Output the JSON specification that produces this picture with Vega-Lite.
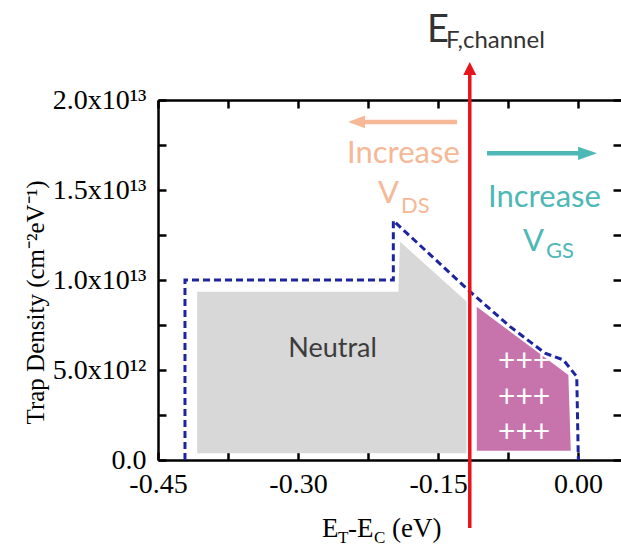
{
  "$schema": "https://vega.github.io/schema/vega-lite/v6.json",
  "width": 463,
  "height": 360,
  "autosize": {"type": "none"},
  "padding": {"left": 158, "top": 100, "right": 0, "bottom": 86},
  "background": "white",
  "config": {"view": {"stroke": null}, "axis": {"grid": false}},
  "resolve": {"axis": {"x": "independent", "y": "independent"}},
  "layer": [
    {
      "data": {"values": [
        {"x": -0.408, "y": 9.35e12},
        {"x": -0.1925, "y": 9.35e12},
        {"x": -0.1907, "y": 1.213e13},
        {"x": -0.1195, "y": 8.8e12}
      ]},
      "mark": {"type": "area", "color": "#d8d8d8", "interpolate": "linear", "opacity": 1},
      "encoding": {
        "x": {"field": "x", "type": "quantitative",
          "scale": {"domain": [-0.45, 0.046], "nice": false, "zero": false},
          "axis": {"orient": "bottom", "title": null,
            "values": [-0.45, -0.375, -0.3, -0.225, -0.15, -0.075, 0],
            "labelExpr": "datum.value == -0.45 ? '-0.45' : datum.value == -0.3 ? '-0.30' : datum.value == -0.15 ? '-0.15' : datum.value == 0 ? '0.00' : ''",
            "tickSize": -8, "tickWidth": 2.5, "tickColor": "#000",
            "domainColor": "#000", "domainWidth": 2.5,
            "labelFont": "Liberation Serif", "labelFontSize": 28, "labelColor": "#000",
            "labelPadding": 18, "labelFlush": false, "labelOverlap": false, "labelBound": false}},
        "y": {"field": "y", "type": "quantitative",
          "scale": {"domain": [0, 2e13], "nice": false, "zero": false},
          "axis": {"orient": "left", "title": "Trap Density (cm⁻²eV⁻¹)",
            "titleFont": "Liberation Serif", "titleFontSize": 25, "titleFontWeight": "normal", "titleColor": "#000",
            "titleX": -123, "titleY": 202, "titleAngle": -90, "titleBaseline": "middle", "titleAlign": "center",
            "values": [0, 2.5e12, 5e12, 7.5e12, 1e13, 1.25e13, 1.5e13, 1.75e13, 2e13],
            "labelExpr": "datum.value == 0 ? '0.0' : datum.value == 5e12 ? '5.0x10¹²' : datum.value == 1e13 ? '1.0x10¹³' : datum.value == 1.5e13 ? '1.5x10¹³' : datum.value == 2e13 ? '2.0x10¹³' : ''",
            "tickSize": -8, "tickWidth": 2.5, "tickColor": "#000",
            "domainColor": "#000", "domainWidth": 2.5,
            "labelFont": "Liberation Serif", "labelFontSize": 28, "labelColor": "#000",
            "labelPadding": 20, "labelFlush": false, "labelOverlap": false, "labelBound": false}},
        "y2": {"datum": 3.7e11}
      }
    },
    {
      "data": {"values": [
        {"x": -0.1085, "y": 8.52e12},
        {"x": -0.0104, "y": 4.72e12},
        {"x": -0.0078, "y": 5.2e11}
      ]},
      "mark": {"type": "area", "color": "#c774ad", "interpolate": "linear", "opacity": 1},
      "encoding": {
        "x": {"field": "x", "type": "quantitative", "axis": null},
        "y": {"field": "y", "type": "quantitative", "axis": null},
        "y2": {"datum": 5.2e11}
      }
    },
    {
      "data": {"values": [
        {"i": 1, "x": -0.4211, "y": 0},
        {"i": 2, "x": -0.4211, "y": 1.0e13},
        {"i": 3, "x": -0.1979, "y": 1.0e13},
        {"i": 4, "x": -0.1979, "y": 1.33e13},
        {"i": 5, "x": -0.1157, "y": 9.35e12},
        {"i": 6, "x": -0.0728, "y": 7.41e12},
        {"i": 7, "x": -0.0353, "y": 5.93e12},
        {"i": 8, "x": -0.0157, "y": 5.56e12},
        {"i": 9, "x": -0.0014, "y": 4.63e12},
        {"i": 10, "x": 0.0003, "y": 0}
      ]},
      "mark": {"type": "line", "color": "#1c24a0", "strokeWidth": 3, "strokeDash": [7, 4], "interpolate": "linear"},
      "encoding": {
        "x": {"field": "x", "type": "quantitative",
          "axis": {"orient": "top", "title": null, "labels": false,
            "values": [-0.45, -0.375, -0.3, -0.225, -0.15, -0.075, 0],
            "tickSize": -8, "tickWidth": 2.5, "tickColor": "#000",
            "domainColor": "#000", "domainWidth": 2.5}},
        "y": {"field": "y", "type": "quantitative",
          "axis": {"orient": "right", "title": null, "labels": false, "domain": false,
            "values": [0, 2.5e12, 5e12, 7.5e12, 1e13, 1.25e13, 1.5e13, 1.75e13, 2e13],
            "tickSize": -8, "tickWidth": 2.5, "tickColor": "#000"}},
        "order": {"field": "i", "type": "quantitative"}
      }
    },
    {
      "data": {"values": [{"x": -0.116, "y": -3.78e12, "y2": 2.16e13}]},
      "mark": {"type": "rule", "color": "#e8141c", "strokeWidth": 3.5, "clip": false},
      "encoding": {
        "x": {"field": "x", "type": "quantitative", "axis": null},
        "y": {"field": "y", "type": "quantitative", "axis": null},
        "y2": {"field": "y2"}
      }
    },
    {
      "data": {"values": [{"x": -0.116, "y": 2.175e13}]},
      "mark": {"type": "point", "shape": "M0,-1L1,1L-1,1Z", "size": 169, "filled": true, "color": "#e8141c", "opacity": 1, "clip": false},
      "encoding": {
        "x": {"field": "x", "type": "quantitative", "axis": null},
        "y": {"field": "y", "type": "quantitative", "axis": null}
      }
    },
    {
      "data": {"values": [{"x": -0.2336, "x2": -0.1296, "y": 1.878e13}]},
      "mark": {"type": "rule", "color": "#f6b896", "strokeWidth": 4.5},
      "encoding": {
        "x": {"field": "x", "type": "quantitative", "axis": null},
        "x2": {"field": "x2"},
        "y": {"field": "y", "type": "quantitative", "axis": null}
      }
    },
    {
      "data": {"values": [{"x": -0.2373, "y": 1.878e13}]},
      "mark": {"type": "point", "shape": "M-1,0L1,-0.75L1,0.75Z", "size": 289, "filled": true, "color": "#f6b896", "opacity": 1},
      "encoding": {
        "x": {"field": "x", "type": "quantitative", "axis": null},
        "y": {"field": "y", "type": "quantitative", "axis": null}
      }
    },
    {
      "data": {"values": [{"x": -0.0975, "x2": 0.0075, "y": 1.704e13}]},
      "mark": {"type": "rule", "color": "#4db8b6", "strokeWidth": 4.5},
      "encoding": {
        "x": {"field": "x", "type": "quantitative", "axis": null},
        "x2": {"field": "x2"},
        "y": {"field": "y", "type": "quantitative", "axis": null}
      }
    },
    {
      "data": {"values": [{"x": 0.0102, "y": 1.704e13}]},
      "mark": {"type": "point", "shape": "M1,0L-1,-0.7L-1,0.7Z", "size": 361, "filled": true, "color": "#4db8b6", "opacity": 1},
      "encoding": {
        "x": {"field": "x", "type": "quantitative", "axis": null},
        "y": {"field": "y", "type": "quantitative", "axis": null}
      }
    },
    {
      "data": {"values": [
        {"x": -0.2475, "y": 1.650e13, "t": "Increase"},
        {"x": -0.2143, "y": 1.428e13, "t": "V"}
      ]},
      "mark": {"type": "text", "font": "Lato", "fontSize": 31, "color": "#f6b896", "align": "left", "baseline": "alphabetic"},
      "encoding": {
        "x": {"field": "x", "type": "quantitative", "axis": null},
        "y": {"field": "y", "type": "quantitative", "axis": null},
        "text": {"field": "t"}
      }
    },
    {
      "data": {"values": [{"x": -0.1896, "y": 1.372e13, "t": "DS"}]},
      "mark": {"type": "text", "font": "Lato", "fontSize": 22, "color": "#f6b896", "align": "left", "baseline": "alphabetic"},
      "encoding": {
        "x": {"field": "x", "type": "quantitative", "axis": null},
        "y": {"field": "y", "type": "quantitative", "axis": null},
        "text": {"field": "t"}
      }
    },
    {
      "data": {"values": [
        {"x": -0.0964, "y": 1.406e13, "t": "Increase"},
        {"x": -0.0589, "y": 1.161e13, "t": "V"}
      ]},
      "mark": {"type": "text", "font": "Lato", "fontSize": 31, "color": "#4db8b6", "align": "left", "baseline": "alphabetic"},
      "encoding": {
        "x": {"field": "x", "type": "quantitative", "axis": null},
        "y": {"field": "y", "type": "quantitative", "axis": null},
        "text": {"field": "t"}
      }
    },
    {
      "data": {"values": [{"x": -0.0343, "y": 1.122e13, "t": "GS"}]},
      "mark": {"type": "text", "font": "Lato", "fontSize": 22, "color": "#4db8b6", "align": "left", "baseline": "alphabetic"},
      "encoding": {
        "x": {"field": "x", "type": "quantitative", "axis": null},
        "y": {"field": "y", "type": "quantitative", "axis": null},
        "text": {"field": "t"}
      }
    },
    {
      "data": {"values": [{"x": -0.1618, "y": 2.322e13, "t": "E"}]},
      "mark": {"type": "text", "font": "Lato", "fontSize": 38, "color": "#333333", "align": "left", "baseline": "alphabetic"},
      "encoding": {
        "x": {"field": "x", "type": "quantitative", "axis": null},
        "y": {"field": "y", "type": "quantitative", "axis": null},
        "text": {"field": "t"}
      }
    },
    {
      "data": {"values": [{"x": -0.1414, "y": 2.289e13, "t": "F,channel"}]},
      "mark": {"type": "text", "font": "Lato", "fontSize": 24, "color": "#333333", "align": "left", "baseline": "alphabetic"},
      "encoding": {
        "x": {"field": "x", "type": "quantitative", "axis": null},
        "y": {"field": "y", "type": "quantitative", "axis": null},
        "text": {"field": "t"}
      }
    },
    {
      "data": {"values": [{"x": -0.263, "y": 5.72e12, "t": "Neutral"}]},
      "mark": {"type": "text", "font": "Lato", "fontSize": 27, "color": "#3c3c3c", "align": "center", "baseline": "alphabetic"},
      "encoding": {
        "x": {"field": "x", "type": "quantitative", "axis": null},
        "y": {"field": "y", "type": "quantitative", "axis": null},
        "text": {"field": "t"}
      }
    },
    {
      "data": {"values": [
        {"x": -0.0578, "y": 5.46e12, "t": "+++"},
        {"x": -0.0578, "y": 3.43e12, "t": "+++"},
        {"x": -0.0578, "y": 1.48e12, "t": "+++"}
      ]},
      "mark": {"type": "text", "font": "Lato", "fontSize": 30, "color": "#ffffff", "align": "center", "baseline": "middle"},
      "encoding": {
        "x": {"field": "x", "type": "quantitative", "axis": null},
        "y": {"field": "y", "type": "quantitative", "axis": null},
        "text": {"field": "t"}
      }
    },
    {
      "data": {"values": [
        {"x": -0.2743, "y": -4.28e12, "t": "E"},
        {"x": -0.2464, "y": -4.28e12, "t": "-E"},
        {"x": -0.1993, "y": -4.28e12, "t": "(eV)"}
      ]},
      "mark": {"type": "text", "font": "Liberation Serif", "fontSize": 27, "color": "#000000", "align": "left", "baseline": "alphabetic"},
      "encoding": {
        "x": {"field": "x", "type": "quantitative", "axis": null},
        "y": {"field": "y", "type": "quantitative", "axis": null},
        "text": {"field": "t"}
      }
    },
    {
      "data": {"values": [
        {"x": -0.2571, "y": -4.61e12, "t": "T"},
        {"x": -0.2186, "y": -4.61e12, "t": "C"}
      ]},
      "mark": {"type": "text", "font": "Liberation Serif", "fontSize": 17, "color": "#000000", "align": "left", "baseline": "alphabetic"},
      "encoding": {
        "x": {"field": "x", "type": "quantitative", "axis": null},
        "y": {"field": "y", "type": "quantitative", "axis": null},
        "text": {"field": "t"}
      }
    }
  ]
}
